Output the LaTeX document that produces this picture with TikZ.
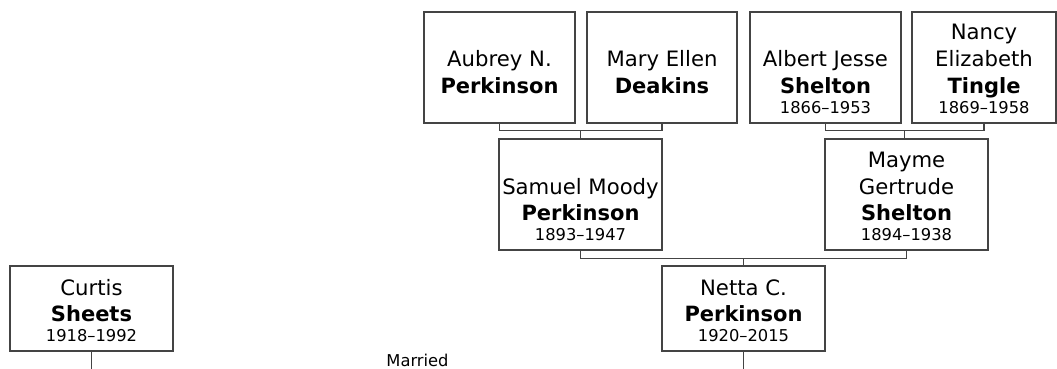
\documentclass[tikz,border=0pt]{standalone}
\usepackage{fontspec}
\setmainfont{DejaVu Sans}
\usetikzlibrary{calc}
\definecolor{ln}{HTML}{444444}
\tikzset{
  pbox/.style={draw=ln, line width=1.4pt, rectangle, inner sep=0pt},
  nm/.style={anchor=base, inner sep=0pt, font=\fontsize{21.2}{25}\selectfont},
  sn/.style={anchor=base, inner sep=0pt, font=\fontsize{21}{25}\selectfont\bfseries},
  dt/.style={anchor=base, inner sep=0pt, font=\fontsize{16.3}{19}\selectfont},
  conn/.style={draw=ln, line width=1.4pt},
}
\begin{document}
\begin{tikzpicture}[x=1pt, y=-1pt]
\useasboundingbox (0,0) rectangle (1057,369);
\coordinate (bot) at (0,369);
% boxes
\node[pbox, minimum width=151pt, minimum height=111pt] (aub) at (499.5,67.5) {};
\node[pbox, minimum width=150pt, minimum height=111pt] (mar) at (662,67.5) {};
\node[pbox, minimum width=151pt, minimum height=111pt] (alb) at (825.5,67.5) {};
\node[pbox, minimum width=144pt, minimum height=111pt] (nan) at (984,67.5) {};
\node[pbox, minimum width=163pt, minimum height=111pt] (sam) at (580.5,194.5) {};
\node[pbox, minimum width=163pt, minimum height=111pt] (may) at (906.5,194.5) {};
\node[pbox, minimum width=163pt, minimum height=85pt] (net) at (743.5,308.5) {};
\node[pbox, minimum width=163pt, minimum height=85pt] (cur) at (91.5,308.5) {};
% texts
\node[nm] (aub1) at ($(aub.south)+(0,-57)$) {Aubrey N.};
\node[sn] (aub2) at ($(aub.south)+(0,-30)$) {Perkinson};
\node[nm] (mar1) at ($(mar.south)+(0,-57)$) {Mary Ellen};
\node[sn] (mar2) at ($(mar.south)+(0,-30)$) {Deakins};
\node[nm] (alb1) at ($(alb.south)+(0,-57)$) {Albert Jesse};
\node[sn] (alb2) at ($(alb.south)+(0,-30)$) {Shelton};
\node[dt] (alb3) at ($(alb.south)+(0,-10)$) {1866–1953};
\node[nm] (nan1) at ($(nan.south)+(0,-84)$) {Nancy};
\node[nm] (nan2) at ($(nan.south)+(0,-57)$) {Elizabeth};
\node[sn] (nan3) at ($(nan.south)+(0,-30)$) {Tingle};
\node[dt] (nan4) at ($(nan.south)+(0,-10)$) {1869–1958};
\node[nm] (sam1) at ($(sam.south)+(0,-56)$) {Samuel Moody};
\node[sn] (sam2) at ($(sam.south)+(0,-30)$) {Perkinson};
\node[dt] (sam3) at ($(sam.south)+(0,-10)$) {1893–1947};
\node[nm] (may1) at ($(may.south)+(0,-83)$) {Mayme};
\node[nm] (may2) at ($(may.south)+(0,-56)$) {Gertrude};
\node[sn] (may3) at ($(may.south)+(0,-30)$) {Shelton};
\node[dt] (may4) at ($(may.south)+(0,-10)$) {1894–1938};
\node[nm] (net1) at ($(net.south)+(0,-56)$) {Netta C.};
\node[sn] (net2) at ($(net.south)+(0,-30)$) {Perkinson};
\node[dt] (net3) at ($(net.south)+(0,-10)$) {1920–2015};
\node[nm] (cur1) at ($(cur.south)+(0,-56)$) {Curtis};
\node[sn] (cur2) at ($(cur.south)+(0,-30)$) {Sheets};
\node[dt] (cur3) at ($(cur.south)+(0,-10)$) {1918–1992};
\node[dt] (married) at (417.5,366) {Married};
% connectors
\draw[conn] (aub.south) -- ++(0,7) -| (mar.south);
\coordinate (m1) at ($(aub.south)!0.5!(mar.south)+(0,7)$);
\draw[conn] (m1) -- (m1 |- sam.north);
\draw[conn] (alb.south) -- ++(0,7) -| (nan.south);
\coordinate (m2) at ($(alb.south)!0.5!(nan.south)+(0,7)$);
\draw[conn] (m2) -- (m2 |- may.north);
\draw[conn] (sam.south) -- ++(0,8) -| (may.south);
\coordinate (m3) at ($(sam.south)!0.5!(may.south)+(0,8)$);
\draw[conn] (m3) -- (m3 |- net.north);
\draw[conn] (net.south) -- (net.south |- bot);
\draw[conn] (cur.south) -- (cur.south |- bot);
\end{tikzpicture}
\end{document}
